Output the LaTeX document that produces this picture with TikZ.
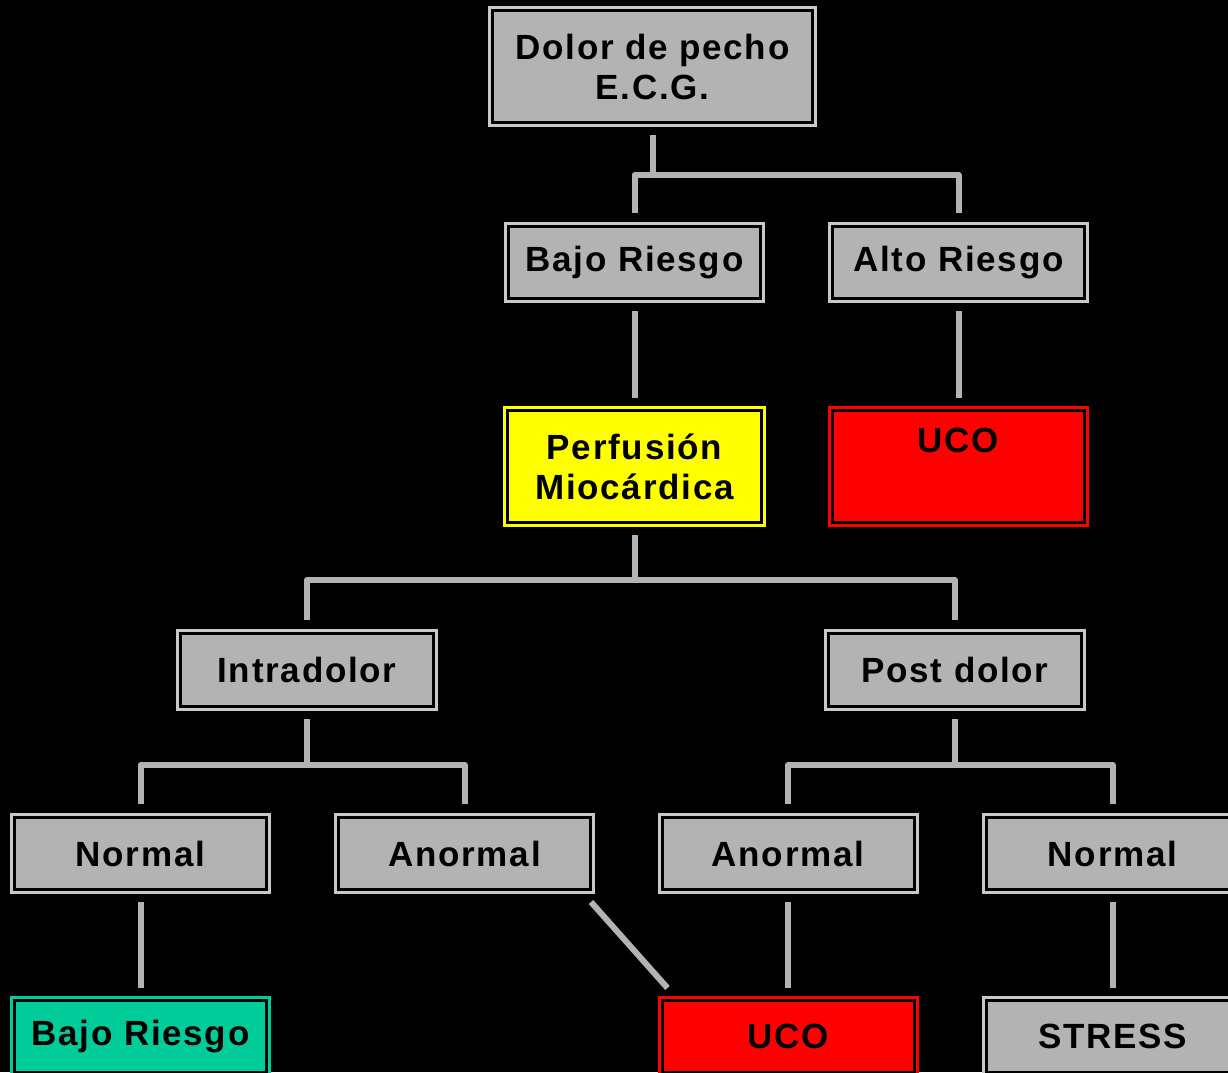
\documentclass[tikz,border=0pt]{standalone}
\usepackage{fontspec}
\setmainfont{Liberation Sans}[LetterSpace=5]
\definecolor{boxgray}{RGB}{179,179,179}
\definecolor{rimgray}{RGB}{200,200,200}
\definecolor{lingray}{RGB}{179,179,179}
\definecolor{boxyellow}{RGB}{255,255,0}
\definecolor{boxred}{RGB}{255,0,0}
\definecolor{boxgreen}{RGB}{0,204,153}
\tikzset{
  box/.style={rectangle, fill=boxgray, draw=rimgray, line width=3pt,
    minimum width=258pt, minimum height=78pt, inner sep=0pt, align=center,
    font=\bfseries\fontsize{35}{40}\selectfont, text=black,
    path picture={\draw[black, line width=3pt]
      ([shift={(3pt,3pt)}]path picture bounding box.south west) rectangle
      ([shift={(-3pt,-3pt)}]path picture bounding box.north east);}},
  tallbox/.style={box, minimum height=118pt},
  yellowbox/.style={tallbox, fill=boxyellow, draw=boxyellow},
  redbox/.style={fill=boxred, draw=boxred},
  greenbox/.style={fill=boxgreen, draw=boxgreen},
  conn/.style={draw=lingray, line width=6pt, line join=round}
}
\begin{document}
\begin{tikzpicture}[x=1pt, y=-1pt]
\useasboundingbox (0,0) rectangle (1228,1072);
\fill[black] (0,0) rectangle (1228,1072);
\clip (0,0) rectangle (1228,1072);

\node[tallbox, minimum width=326pt] (top) at (652.5,66.5) {Dolor de pecho\\E.C.G.};
\node[box] (bajo1) at (634.5,262.5) {Bajo Riesgo};
\node[box] (alto) at (958.5,262.5) {Alto Riesgo};
\node[yellowbox, minimum width=260pt] (perf) at (634.5,466.5) {Perfusión\\Miocárdica};
\node[tallbox, redbox] (uco1) at (958.5,466.5) {UCO\\\strut};
\node[box, minimum width=259pt, minimum height=79pt] (intra) at (307,670) {Intradolor};
\node[box, minimum width=259pt, minimum height=79pt] (post) at (955,670) {Post dolor};
\node[box] (normal1) at (140.5,853.5) {Normal};
\node[box] (anormal1) at (464.5,853.5) {Anormal};
\node[box] (anormal2) at (788,853.5) {Anormal};
\node[box] (normal2) at (1112.5,853.5) {Normal};
\node[box, greenbox] (bajo2) at (140.5,1036.5) {Bajo Riesgo};
\node[box, redbox] (uco2) at (788,1036.5) {UCO};
\node[box] (stress) at (1112.5,1036.5) {STRESS};

\coordinate (j1) at (652.5,175);
\coordinate (j2) at (634.5,580);
\coordinate (j3) at (307,765);
\coordinate (j4) at (955,765);

\draw[conn] ([yshift=-8pt]top.south) -- (j1);
\draw[conn] ([yshift=9pt]bajo1.north) |- (j1) -| ([yshift=9pt]alto.north);
\draw[conn] ([yshift=-8pt]bajo1.south) -- ([yshift=8pt]perf.north);
\draw[conn] ([yshift=-8pt]alto.south) -- ([yshift=8pt]uco1.north);
\draw[conn] ([yshift=-8pt]perf.south) -- (j2);
\draw[conn] ([yshift=9pt]intra.north) |- (j2) -| ([yshift=9pt]post.north);
\draw[conn] ([yshift=-8pt]intra.south) -- (j3);
\draw[conn] ([yshift=9pt]normal1.north) |- (j3) -| ([yshift=9pt]anormal1.north);
\draw[conn] ([yshift=-8pt]post.south) -- (j4);
\draw[conn] ([yshift=9pt]anormal2.north) |- (j4) -| ([yshift=9pt]normal2.north);
\draw[conn] ([yshift=-8pt]normal1.south) -- ([yshift=8pt]bajo2.north);
\draw[conn] ([yshift=-8pt]anormal2.south) -- ([yshift=8pt]uco2.north);
\draw[conn] ([yshift=-8pt]normal2.south) -- ([yshift=8pt]stress.north);
\draw[conn] ([shift={(-4pt,-8pt)}]anormal1.south east) -- ([shift={(10pt,8pt)}]uco2.north west);
\end{tikzpicture}
\end{document}
